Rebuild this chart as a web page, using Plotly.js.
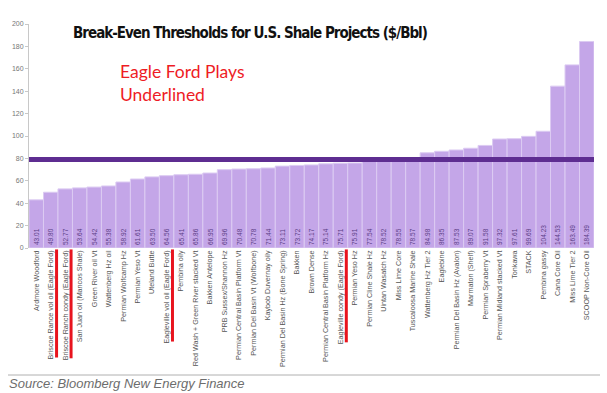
<!DOCTYPE html>
<html>
<head>
<meta charset="utf-8">
<script src="https://cdn.plot.ly/plotly-3.0.1.min.js"></script>
<style>html,body{margin:0;padding:0;background:#fff;}#chart{width:607px;height:393px;}</style>
</head>
<body>
<div id="chart"></div>
<script>
const categories = [
  "Ardmore Woodford",
  "Briscoe Rance vol oil (Eagle Ford)",
  "Briscoe Ranch condy (Eagle Ford)",
  "San Juan oil (Mancos Shale)",
  "Green River oil Vt",
  "Wattenberg Hz oil",
  "Permian Wolfcamp Hz",
  "Permian Yeso Vt",
  "Uteland Butte",
  "Eagleville vol oil (Eagle Ford)",
  "Pembina oily",
  "Red Wash + Green River stacked Vt",
  "Bakken Antelope",
  "PRB Sussex/Shannon Hz",
  "Permian Central Basin Platform Vt",
  "Permian Del Basin Vt (Wolfbone)",
  "Kaybob Duvernay oily",
  "Permian Del Basin Hz (Bone Spring)",
  "Bakken",
  "Brown Dense",
  "Permian Central Basin Platform Hz",
  "Eagleville condy (Eagle Ford)",
  "Permian Yeso Hz",
  "Permian Cline Shale Hz",
  "Uintan Wasatch Hz",
  "Miss Lime Core",
  "Tuscaloosa Marine Shale",
  "Wattenberg Hz Tier 2",
  "Eaglebine",
  "Permian Del Basin Hz (Avalon)",
  "Marmaton (Shelf)",
  "Permian Spraberry Vt",
  "Permian Midland stacked Vt",
  "Tonkawa",
  "STACK",
  "Pembina gassy",
  "Cana Core Oil",
  "Miss Lime Tier 2",
  "SCOOP Non-Core Oil"
];
const breakEven = [
  43.01, 49.80, 52.77, 53.64, 54.42, 55.38, 58.92, 61.61, 63.50, 64.56,
  65.41, 65.86, 66.95, 69.96, 70.48, 70.78, 71.44, 73.11, 73.72, 74.17,
  75.14, 75.71, 75.91, 77.54, 78.52, 78.55, 78.57, 84.98, 86.35, 87.53,
  89.07, 91.58, 97.32, 97.61, 99.69, 104.23, 144.53, 163.49, 184.39
];
const threshold = 79;
const yTicks = [0, 20, 40, 60, 80, 100, 120, 140, 160, 180, 200];
const highlightKey = "(Eagle Ford)";

const W = 607, H = 393;
const M = {l: 29, r: 13, t: 24, b: 145};
const PW = W - M.l - M.r, PH = H - M.t - M.b;
const px2x = p => (p - M.l) / PW;
const px2y = p => 1 - (p - M.t) / PH;

const trace = {
  type: 'bar',
  x: categories,
  y: breakEven,
  marker: {color: '#c4a6e8', line: {color: '#dccbf2', width: 1}},
  text: breakEven.map(v => v.toFixed(2)),
  textposition: 'inside',
  insidetextanchor: 'start',
  textangle: -90,
  constraintext: 'none',
  textfont: {family: 'Liberation Sans, Arial, sans-serif', size: 6.5, color: '#5b3d86'},
  hoverinfo: 'x+y'
};

const layout = {
  width: W, height: H,
  margin: M,
  paper_bgcolor: '#fff', plot_bgcolor: '#fff',
  showlegend: false,
  bargap: 0,
  title: {
    text: '<b>Break-Even Thresholds for U.S. Shale Projects ($/Bbl)</b>',
    xref: 'container', x: 250 / W, xanchor: 'center',
    yref: 'container', y: 1 - 33 / H, yanchor: 'middle',
    font: {family: 'DejaVu Sans Condensed, Arial, sans-serif', size: 15, color: '#111'}
  },
  xaxis: {
    type: 'category',
    tickangle: -90,
    tickfont: {family: 'Liberation Sans, Arial, sans-serif', size: 7.2, color: '#555'},
    showline: false, showgrid: false, zeroline: false,
    ticks: '', automargin: false
  },
  yaxis: {
    range: [0, 200],
    tickvals: yTicks,
    tickfont: {family: 'Liberation Sans, Arial, sans-serif', size: 7, color: '#777'},
    showline: true, linecolor: '#c8c8c8', linewidth: 1,
    ticks: 'outside', ticklen: 3, tickcolor: '#c8c8c8',
    showgrid: false, zeroline: false, automargin: false
  },
  shapes: [
    {type: 'line', xref: 'paper', x0: 0, x1: 1, yref: 'y', y0: threshold, y1: threshold,
     line: {color: '#5e2d91', width: 5}},
    {type: 'line', xref: 'paper', x0: px2x(8), x1: px2x(600), yref: 'paper', y0: px2y(375), y1: px2y(375),
     line: {color: '#b0b0b0', width: 1}}
  ],
  annotations: [
    {text: 'Eagle Ford Plays<br>Underlined', xref: 'paper', yref: 'paper',
     x: px2x(118), y: px2y(59), xanchor: 'left', yanchor: 'top', align: 'left', showarrow: false,
     font: {family: 'Lato, Liberation Sans, sans-serif', size: 17.5, color: '#ee1c25'}},
    {text: '<i>Source: Bloomberg New Energy Finance</i>', xref: 'paper', yref: 'paper',
     x: px2x(7), y: px2y(383), xanchor: 'left', yanchor: 'middle', showarrow: false,
     font: {family: 'Liberation Sans, Arial, sans-serif', size: 13, color: '#6d6d6d'}}
  ]
};

function tightenTitle() {
  const t = gd.querySelector('.gtitle');
  if (t) t.style.letterSpacing = '-1px';
}

const gd = document.getElementById('chart');
Plotly.newPlot(gd, [trace], layout, {displayModeBar: false, staticPlot: true}).then(() => {
  const box = gd.getBoundingClientRect();
  const ticks = gd.querySelectorAll('.xtick text');
  const extra = [];
  ticks.forEach(t => {
    const label = t.textContent;
    if (label.indexOf(highlightKey) >= 0) {
      const r = t.getBoundingClientRect();
      const xr = r.right - box.left + 1.5;
      extra.push({type: 'line', xref: 'paper', yref: 'paper',
        x0: px2x(xr), x1: px2x(xr),
        y0: px2y(r.top - box.top - 1), y1: px2y(r.bottom - box.top - 2),
        line: {color: '#e8141e', width: 3}});
    }
  });
  return Plotly.relayout(gd, {shapes: layout.shapes.concat(extra)});
}).then(tightenTitle);
</script>
</body>
</html>
